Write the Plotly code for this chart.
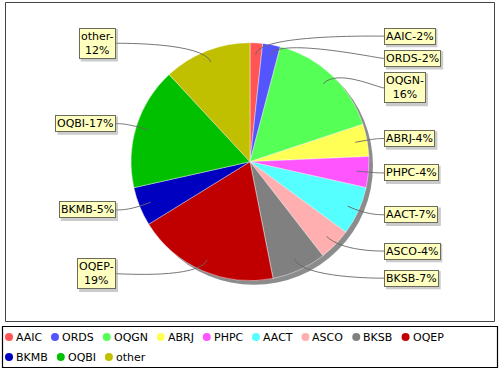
import math
import plotly.graph_objects as go

# ---------------- data ----------------
names = ["AAIC", "ORDS", "OQGN", "ABRJ", "PHPC", "AACT", "ASCO", "BKSB", "OQEP", "BKMB", "OQBI", "other"]
values = [1.7, 2.4, 15.8, 4.4, 4.2, 6.6, 4.4, 7.4, 19.3, 5.3, 16.6, 11.9]
colors = ["#FF5555", "#5555FF", "#55FF55", "#FFFF55", "#FF55FF", "#55FFFF",
          "#FFAFAF", "#808080", "#C00000", "#0000C0", "#00C000", "#C0C000"]

# ---------------- layout constants (pixels) ----------------
W, H = 500, 370
CX, CY, R = 250.0, 161.7, 119.0
LINK_R = 128.0          # radius of the label-link area
LINK_PCT = 0.9          # where leader lines start inside the slice
LABEL_GAP = 6.0
FONT = "DejaVu Sans"
FS = 11
LINE_H = 1.3 * FS
PAD = 2.0               # borderpad + borderwidth
LABEL_TOP, LABEL_BOTTOM, LABEL_SPACING = 27.0, 290.0, 4.0
WRAP_EM = 5.2

CW = {'0': .636, '1': .636, '2': .636, '3': .636, '4': .636, '5': .636, '6': .636, '7': .636,
      '8': .636, '9': .636, '-': .361, '%': .950, 'A': .684, 'B': .686, 'C': .698, 'D': .770,
      'E': .632, 'G': .775, 'H': .752, 'I': .295, 'J': .295, 'K': .656, 'M': .863, 'N': .748,
      'O': .787, 'P': .603, 'Q': .787, 'R': .695, 'S': .635, 'T': .611, 'o': .612, 't': .392,
      'h': .634, 'e': .615, 'r': .411}


def text_em(s):
    return sum(CW.get(c, .65) for c in s)


total = sum(values)
pcts = [round(v / total * 100) for v in values]

# mid angles (clockwise from 12 o'clock)
mids = []
acc = 0.0
for v in values:
    mids.append((acc + v / 2) / total * 2 * math.pi)
    acc += v

labels = []
for n, p, th in zip(names, pcts, mids):
    txt = f"{n}-{p}%"
    parts = [txt]
    if text_em(txt) > WRAP_EM:
        parts = [f"{n}-", f"{p}%"]
    h = len(parts) * LINE_H + 2 * PAD
    w = max(text_em(s) for s in parts) * FS + 2 * PAD
    labels.append(dict(text="<br>".join(parts), h=h, w=w, theta=th,
                       ideal=CY - LINK_R * math.cos(th),
                       right=th < math.pi))


def distribute(items):
    items = sorted(items, key=lambda d: d["ideal"])
    prev_bottom = None
    for it in items:
        t = max(it["ideal"] - it["h"] / 2, LABEL_TOP)
        if prev_bottom is not None:
            t = max(t, prev_bottom + LABEL_SPACING)
        it["y"] = t + it["h"] / 2
        prev_bottom = t + it["h"]
    limit = LABEL_BOTTOM
    for it in reversed(items):
        b = min(it["y"] + it["h"] / 2, limit)
        it["y"] = b - it["h"] / 2
        limit = b - it["h"] - LABEL_SPACING


distribute([l for l in labels if l["right"]])
distribute([l for l in labels if not l["right"]])

fig = go.Figure()

# pie
fig.add_trace(go.Pie(
    labels=names, values=values, sort=False, direction="clockwise", rotation=0,
    marker=dict(colors=colors, line=dict(color="rgba(255,255,255,0.7)", width=0.6)),
    textinfo="none", hoverinfo="label+percent", showlegend=False,
    domain=dict(x=[(CX - R) / W, (CX + R) / W], y=[1 - (CY + R) / H, 1 - (CY - R) / H]),
))

shapes = []
annotations = []

# pie shadow
shapes.append(dict(type="circle", xref="x", yref="y", layer="below",
                   x0=CX - R + 4, x1=CX + R + 4, y0=CY - R + 4, y1=CY + R + 4,
                   fillcolor="#8c8c8c", line=dict(width=0)))

# plot frame and legend frame
shapes.append(dict(type="rect", xref="x", yref="y", x0=5.5, y0=2.5, x1=494.5, y1=321.5,
                   line=dict(color="#444444", width=1), layer="below"))
shapes.append(dict(type="rect", xref="x", yref="y", x0=2.5, y0=326.5, x1=497.5, y1=367.5,
                   line=dict(color="#000000", width=1.2), layer="below"))

# labels with leader curves
for l in labels:
    th = l["theta"]
    sx, sy = math.sin(th), -math.cos(th)
    linkx, linky = CX + R * LINK_PCT * sx, CY + R * LINK_PCT * sy
    elbx, elby = CX + LINK_R * sx, CY + LINK_R * sy
    if l["right"]:
        anchor_x = CX + LINK_R
        tx = anchor_x + LABEL_GAP
        xanchor = "left"
        bx0 = tx
    else:
        anchor_x = CX - LINK_R
        tx = anchor_x - LABEL_GAP
        xanchor = "right"
        bx0 = tx - l["w"]
    ty = l["y"]
    path = (f"M {tx:.2f} {ty:.2f} C {anchor_x:.2f} {ty:.2f} {elbx:.2f} {elby:.2f} "
            f"{linkx:.2f} {linky:.2f}")
    shapes.append(dict(type="path", xref="x", yref="y", path=path, layer="above",
                       line=dict(color="#666666", width=0.9)))
    # label shadow
    shapes.append(dict(type="rect", xref="x", yref="y", layer="above",
                       x0=bx0 + 2, x1=bx0 + l["w"] + 2,
                       y0=ty - l["h"] / 2 + 2, y1=ty + l["h"] / 2 + 2,
                       fillcolor="rgba(151,151,151,0.5)", line=dict(width=0)))
    annotations.append(dict(x=tx, y=ty, xref="x", yref="y", text=l["text"],
                            showarrow=False, xanchor=xanchor, yanchor="middle", align="center",
                            font=dict(family=FONT, size=FS, color="#000000"),
                            bgcolor="#FFFFC0", borderpad=1, borderwidth=1,
                            bordercolor="#6b6b5a"))

# legend (manual, compact like the original)
LEG_X0, LEG_XMAX = 9.0, 460.0
LEG_ROWS = [337.0, 357.0]
mx, my = [], []
x, row = LEG_X0, 0
for n, c in zip(names, colors):
    w = text_em(n) * FS
    if x + 8 + w > LEG_XMAX:
        row += 1
        x = LEG_X0
    mx.append(x)
    my.append(LEG_ROWS[row])
    annotations.append(dict(x=x + 7, y=LEG_ROWS[row], xref="x", yref="y", text=n,
                            showarrow=False, xanchor="left", yanchor="middle",
                            font=dict(family=FONT, size=FS, color="#000000"),
                            borderpad=0, borderwidth=0))
    x = x + 8 + w + 12

fig.add_trace(go.Scatter(x=mx, y=my, mode="markers", hoverinfo="skip", showlegend=False,
                         marker=dict(color=colors, size=8, line=dict(width=0))))

fig.update_layout(
    width=W, height=H, margin=dict(l=0, r=0, t=0, b=0),
    paper_bgcolor="white", plot_bgcolor="white",
    xaxis=dict(range=[0, W], visible=False, fixedrange=True, domain=[0, 1]),
    yaxis=dict(range=[H, 0], visible=False, fixedrange=True, domain=[0, 1]),
    shapes=shapes, annotations=annotations,
    font=dict(family=FONT, size=FS),
    showlegend=False,
)

fig.write_html("out.html", config={"displayModeBar": False},
               post_script="document.body.style.margin='0';document.body.style.padding='0';document.body.style.overflow='hidden';")
